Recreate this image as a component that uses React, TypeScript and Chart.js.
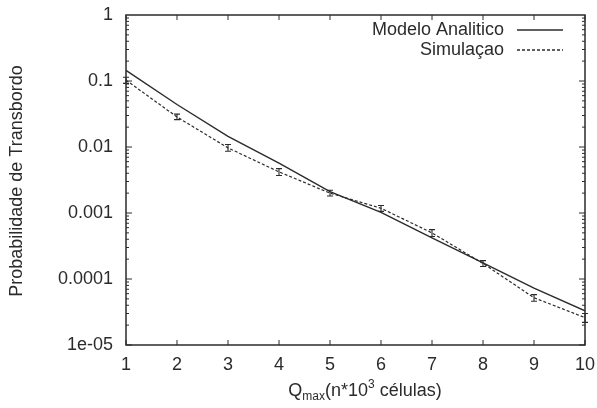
import { useEffect, useRef } from "react";
import { Chart, registerables } from "chart.js";

Chart.register(...registerables);

// Buffer size Qmax, in thousands of cells
const qValues = [1, 2, 3, 4, 5, 6, 7, 8, 9, 10];

// Overflow probability from the analytic model
const analyticProb = [0.145, 0.044, 0.0145, 0.0057, 0.0021, 0.00102, 0.00042, 0.000175, 0.000073, 0.000033];

// Overflow probability from simulation, with confidence interval bounds
const simProb = [0.103, 0.0285, 0.0097, 0.0042, 0.002, 0.00118, 0.0005, 0.000172, 0.000052, 0.000026];
const simLow = [0.092, 0.026, 0.0086, 0.0037, 0.00181, 0.00106, 0.00044, 0.000155, 0.000046, 0.000022];
const simHigh = [0.114, 0.0315, 0.0109, 0.0047, 0.00221, 0.0013, 0.00056, 0.00019, 0.000058, 0.00003];

const xTickValues = [1, 2, 3, 4, 5, 6, 7, 8, 9, 10];
const yTickValues = [1, 0.1, 0.01, 0.001, 0.0001, 0.00001];
const yTickLabels = ["1", "0.1", "0.01", "0.001", "0.0001", "1e-05"];

const seriesNames = ["Modelo Analitico", "Simulaçao"];
const yTitle = "Probabilidade de Transbordo";

const INK = "#2b2b2b";
const FONT = "Liberation Sans, Arial, Helvetica, sans-serif";

const framePlugin = {
  id: "gnuplotFrame",
  afterDatasetsDraw(chart: any) {
    const { ctx } = chart;
    const xs = chart.scales.x;
    const ys = chart.scales.y;
    ctx.save();
    ctx.strokeStyle = INK;
    ctx.lineWidth = 1.1;
    ctx.setLineDash([]);
    // error bars for the simulation series
    qValues.forEach((q, i) => {
      const px = xs.getPixelForValue(q);
      const lo = ys.getPixelForValue(simLow[i]);
      const hi = ys.getPixelForValue(simHigh[i]);
      ctx.beginPath();
      ctx.moveTo(px, lo);
      ctx.lineTo(px, hi);
      ctx.moveTo(px - 3, lo);
      ctx.lineTo(px + 3, lo);
      ctx.moveTo(px - 3, hi);
      ctx.lineTo(px + 3, hi);
      ctx.stroke();
    });
    ctx.restore();
  },
  afterDraw(chart: any) {
    const { ctx, chartArea: a } = chart;
    const xs = chart.scales.x;
    const ys = chart.scales.y;
    ctx.save();
    ctx.strokeStyle = INK;
    ctx.lineWidth = 1.5;
    ctx.setLineDash([]);
    ctx.strokeRect(a.left, a.top, a.right - a.left, a.bottom - a.top);

    // inward tick marks on all four sides
    ctx.lineWidth = 1;
    ctx.beginPath();
    xTickValues.forEach((v) => {
      const px = xs.getPixelForValue(v);
      ctx.moveTo(px, a.bottom);
      ctx.lineTo(px, a.bottom - 5);
      ctx.moveTo(px, a.top);
      ctx.lineTo(px, a.top + 5);
    });
    for (let e = -5; e < 0; e++) {
      for (let m = 1; m <= 9; m++) {
        const v = m * Math.pow(10, e);
        const py = ys.getPixelForValue(v);
        const len = m === 1 ? 6 : 3;
        ctx.moveTo(a.left, py);
        ctx.lineTo(a.left + len, py);
        ctx.moveTo(a.right, py);
        ctx.lineTo(a.right - len, py);
      }
    }
    ctx.stroke();

    // legend
    ctx.fillStyle = INK;
    ctx.font = `18px ${FONT}`;
    ctx.textAlign = "right";
    ctx.textBaseline = "middle";
    const legendRows = [30, 50];
    seriesNames.forEach((name, i) => {
      ctx.fillText(name, 504, legendRows[i]);
      ctx.beginPath();
      ctx.lineWidth = 1.3;
      ctx.setLineDash(i === 0 ? [] : [3, 2]);
      ctx.moveTo(517, legendRows[i]);
      ctx.lineTo(563, legendRows[i]);
      ctx.stroke();
    });
    ctx.setLineDash([]);

    // y axis title
    ctx.save();
    ctx.translate(17, (a.top + a.bottom) / 2 + 1);
    ctx.rotate(-Math.PI / 2);
    ctx.textAlign = "center";
    ctx.textBaseline = "middle";
    ctx.font = `18px ${FONT}`;
    ctx.fillText(yTitle, 0, 0);
    ctx.restore();

    // x axis title with subscript and superscript
    const parts = [
      { t: "Q", size: 18, dy: 0 },
      { t: "max", size: 12, dy: 4 },
      { t: "(n*10", size: 18, dy: 0 },
      { t: "3", size: 12, dy: -8 },
      { t: " células)", size: 18, dy: 0 },
    ];
    ctx.textAlign = "left";
    ctx.textBaseline = "alphabetic";
    let total = 0;
    parts.forEach((p) => {
      ctx.font = `${p.size}px ${FONT}`;
      total += ctx.measureText(p.t).width;
    });
    let cx = 365 - total / 2;
    const base = 396;
    parts.forEach((p) => {
      ctx.font = `${p.size}px ${FONT}`;
      ctx.fillText(p.t, cx, base + p.dy);
      cx += ctx.measureText(p.t).width;
    });
    ctx.restore();
  },
};

export default function App() {
  const ref = useRef<HTMLCanvasElement>(null);

  useEffect(() => {
    document.body.style.margin = "0";
    const chart = new Chart(ref.current!, {
      type: "line",
      data: {
        datasets: [
          {
            label: seriesNames[0],
            data: qValues.map((x, i) => ({ x, y: analyticProb[i] })),
            borderColor: INK,
            borderWidth: 1.4,
            pointRadius: 0,
            tension: 0,
          },
          {
            label: seriesNames[1],
            data: qValues.map((x, i) => ({ x, y: simProb[i] })),
            borderColor: INK,
            borderWidth: 1.2,
            borderDash: [3, 2],
            pointRadius: 0,
            tension: 0,
          },
        ],
      },
      options: {
        responsive: false,
        animation: false,
        events: [],
        layout: { padding: { left: 0, right: 12, top: 15, bottom: 0 } },
        plugins: { legend: { display: false }, tooltip: { enabled: false } },
        scales: {
          x: {
            type: "linear",
            min: 1,
            max: 10,
            afterBuildTicks: (s: any) => {
              s.ticks = xTickValues.map((v) => ({ value: v }));
            },
            afterFit: (s: any) => {
              s.height = 63;
              s.paddingLeft = 0;
              s.paddingRight = 0;
            },
            grid: { display: false, drawTicks: false },
            border: { display: false },
            ticks: {
              padding: 9,
              color: INK,
              font: { family: FONT, size: 18 },
              maxRotation: 0,
              callback: (v: any) => String(v),
            },
          },
          y: {
            type: "logarithmic",
            min: 1e-5,
            max: 1,
            afterBuildTicks: (s: any) => {
              s.ticks = yTickValues.map((v) => ({ value: v }));
            },
            afterFit: (s: any) => {
              s.width = 126;
              s.paddingTop = 0;
              s.paddingBottom = 0;
            },
            grid: { display: false, drawTicks: false },
            border: { display: false },
            ticks: {
              padding: 13,
              color: INK,
              font: { family: FONT, size: 18 },
              callback: (v: any) => {
                const i = yTickValues.findIndex((t) => Math.abs(Math.log10(t) - Math.log10(v)) < 1e-6);
                return i >= 0 ? yTickLabels[i] : "";
              },
            },
          },
        },
      },
      plugins: [framePlugin],
    } as any);
    return () => chart.destroy();
  }, []);

  return <canvas ref={ref} width={597} height={408} style={{ display: "block" }} />;
}
